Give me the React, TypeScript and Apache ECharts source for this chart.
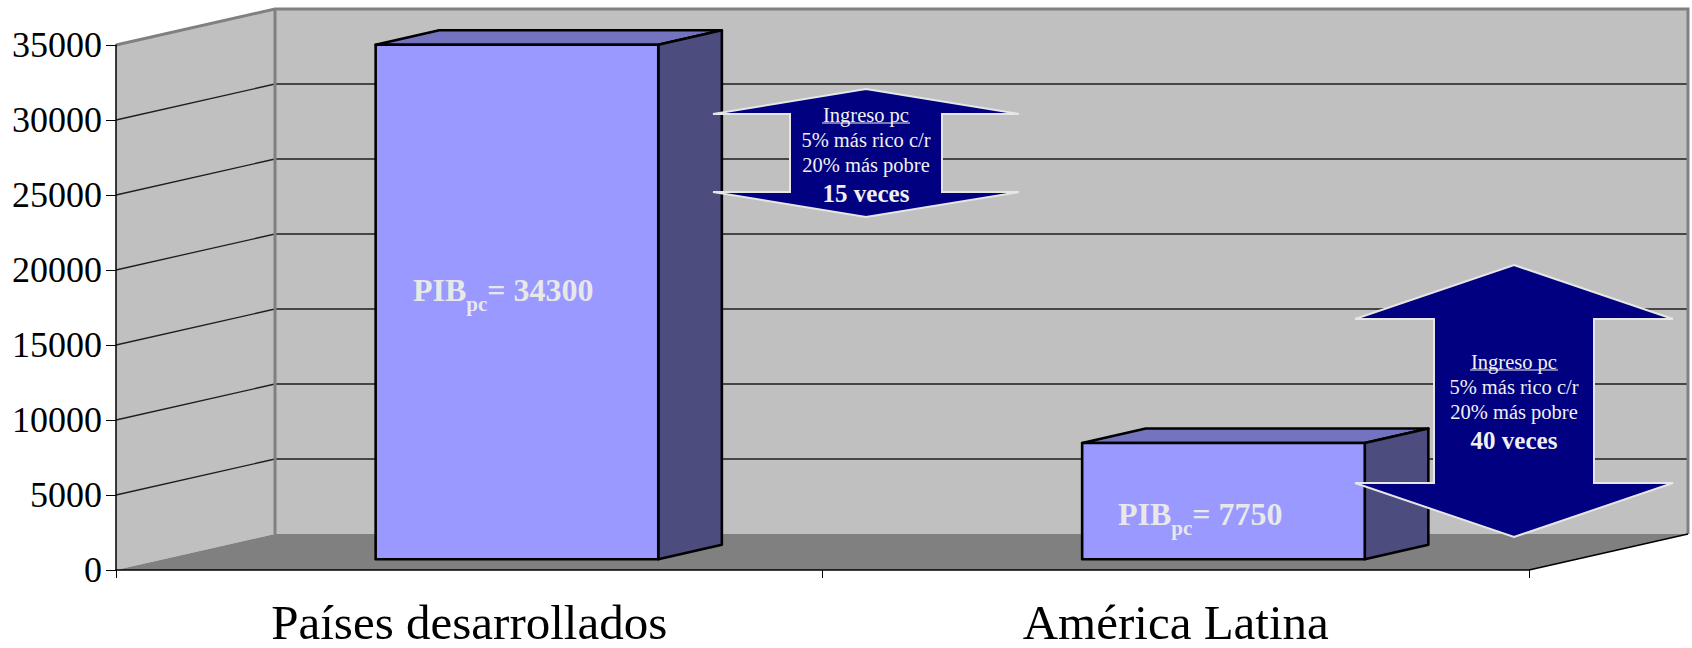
import React, { useEffect, useRef } from "react";
import * as echarts from "echarts";

const categories = ["Países desarrollados", "América Latina"];
const pibValues = [34300, 7750];
const yTicks = [0, 5000, 10000, 15000, 20000, 25000, 30000, 35000];
const pibLabels = ["34300", "7750"];
const arrowLines = ["Ingreso pc", "5% más rico c/r", "20% más pobre"];
const arrowRatios = ["15 veces", "40 veces"];

const DEPTH = [159, -36];
const FONT = "'Times New Roman', 'Liberation Serif', serif";

function renderWalls(params: any, api: any) {
  const cs = params.coordSys;
  const [dx, dy] = DEPTH;
  const x0 = cs.x;
  const x1 = cs.x + cs.width;
  const yTop = cs.y;
  const yBot = cs.y + cs.height;
  const children: any[] = [];
  children.push({
    type: "rect",
    shape: { x: x0 + dx, y: yTop + dy, width: cs.width, height: cs.height },
    style: { fill: "#c0c0c0" },
  });
  children.push({
    type: "polygon",
    shape: { points: [[x0, yTop], [x0 + dx, yTop + dy], [x0 + dx, yBot + dy], [x0, yBot]] },
    style: { fill: "#c0c0c0" },
  });
  children.push({
    type: "polygon",
    shape: { points: [[x0, yBot], [x0 + dx, yBot + dy], [x1 + dx, yBot + dy], [x1, yBot]] },
    style: { fill: "#808080" },
  });
  yTicks.forEach((t, i) => {
    if (i === 0 || i === yTicks.length - 1) return;
    const y = api.coord([0, t])[1];
    children.push({
      type: "polyline",
      shape: { points: [[x0, y], [x0 + dx, y + dy], [x1 + dx, y + dy]] },
      style: { stroke: "#1e1e1e", lineWidth: 1.3, fill: null },
    });
  });
  children.push({
    type: "polyline",
    shape: { points: [[x0, yTop], [x0 + dx, yTop + dy], [x1 + dx, yTop + dy], [x1 + dx, yBot + dy]] },
    style: { stroke: "#808080", lineWidth: 3, fill: null },
  });
  children.push({
    type: "line",
    shape: { x1: x0 + dx, y1: yTop + dy, x2: x0 + dx, y2: yBot + dy },
    style: { stroke: "#808080", lineWidth: 3 },
  });
  children.push({
    type: "line",
    shape: { x1: x1, y1: yBot, x2: x1 + dx, y2: yBot + dy },
    style: { stroke: "#000", lineWidth: 1.5 },
  });
  return { type: "group", children };
}

function renderBar(params: any, api: any) {
  const idx = api.value(0);
  const val = api.value(1);
  const top = api.coord([idx, val]);
  const base = api.coord([idx, 0]);
  const catW = api.size([1, 0])[0];
  const bw = catW * 0.4;
  const [dx, dy] = DEPTH;
  const fx = top[0] - bw / 2 + dx * 0.3;
  const fy = top[1] + dy * 0.3;
  const by = base[1] + dy * 0.3;
  const bdx = dx * 0.4;
  const bdy = dy * 0.4;
  const st = { stroke: "#000", lineWidth: 2.6, lineJoin: "round" };
  return {
    type: "group",
    children: [
      {
        type: "polygon",
        shape: { points: [[fx, fy], [fx + bw, fy], [fx + bw + bdx, fy + bdy], [fx + bdx, fy + bdy]] },
        style: { fill: "#7373bf", ...st },
      },
      {
        type: "polygon",
        shape: { points: [[fx + bw, fy], [fx + bw + bdx, fy + bdy], [fx + bw + bdx, by + bdy], [fx + bw, by]] },
        style: { fill: "#4c4c7f", ...st },
      },
      {
        type: "rect",
        shape: { x: fx, y: fy, width: bw, height: by - fy },
        style: { fill: "#9999ff", ...st },
      },
    ],
  };
}

function arrowGraphic(cx: number, shaft: number, head: number, tipT: number, shT: number, shB: number, tipB: number, ratio: string, textTop: number) {
  const els: any[] = [];
  els.push({
    type: "polygon",
    z: 10,
    shape: {
      points: [
        [cx, tipT], [cx + head, shT], [cx + shaft, shT], [cx + shaft, shB], [cx + head, shB],
        [cx, tipB], [cx - head, shB], [cx - shaft, shB], [cx - shaft, shT], [cx - head, shT],
      ],
    },
    style: { fill: "#000080", stroke: "#e6e6e6", lineWidth: 2 },
  });
  const offs = [0, 25, 50];
  arrowLines.forEach((t, i) => {
    els.push({
      type: "text",
      z: 11,
      x: cx,
      y: textTop + offs[i],
      style: { text: t, fill: "#f0f0f0", font: `20.5px ${FONT}`, align: "center", verticalAlign: "middle" },
    });
  });
  els.push({
    type: "line",
    z: 11,
    shape: { x1: cx - 44, y1: textTop + 8, x2: cx + 44, y2: textTop + 8 },
    style: { stroke: "#f0f0f0", lineWidth: 1.2 },
  });
  els.push({
    type: "text",
    z: 11,
    x: cx,
    y: textTop + 78,
    style: { text: ratio, fill: "#f0f0f0", font: `bold 25px ${FONT}`, align: "center", verticalAlign: "middle" },
  });
  return els;
}

function pibLabel(x: number, y: number, value: string) {
  return {
    type: "text",
    z: 11,
    x,
    y,
    style: {
      text: `{m|PIB}{s|pc}{m|= ${value}}`,
      align: "left",
      verticalAlign: "middle",
      fill: "#e8e8e8",
      rich: {
        m: { fontFamily: FONT, fontWeight: "bold", fontSize: 32, lineHeight: 40, verticalAlign: "top", fill: "#e8e8e8" },
        s: { fontFamily: FONT, fontWeight: "bold", fontSize: 21, lineHeight: 21, verticalAlign: "bottom", fill: "#e8e8e8" },
      },
    },
  };
}

export default function App() {
  const ref = useRef<HTMLDivElement>(null);
  useEffect(() => {
    if (!ref.current) return;
    const chart = echarts.init(ref.current, null, { renderer: "svg" });
    chart.setOption({
      animation: false,
      backgroundColor: "#ffffff",
      grid: { left: 116, right: 163, top: 45, bottom: 78 },
      xAxis: {
        type: "category",
        data: categories,
        boundaryGap: true,
        z: 5,
        axisLine: { lineStyle: { color: "#000", width: 1.5 } },
        axisTick: { show: true, length: 8, interval: 0, lineStyle: { color: "#000", width: 1 } },
        axisLabel: { interval: 0, margin: 32, lineHeight: 40, color: "#000", fontFamily: FONT, fontSize: 49 },
        splitLine: { show: false },
      },
      yAxis: {
        type: "value",
        min: yTicks[0],
        max: yTicks[yTicks.length - 1],
        interval: 5000,
        z: 5,
        axisLine: { show: true, lineStyle: { color: "#000", width: 1.5 } },
        axisTick: { show: true, length: 10, lineStyle: { color: "#000", width: 1 } },
        axisLabel: { margin: 14, color: "#000", fontFamily: FONT, fontSize: 36, formatter: (v: number) => String(v) },
        splitLine: { show: false },
      },
      series: [
        {
          type: "custom",
          z: 1,
          clip: false,
          silent: true,
          renderItem: renderWalls,
          encode: { x: 0, y: 1 },
          data: [[0, 0]],
        },
        {
          type: "custom",
          z: 2,
          clip: false,
          renderItem: renderBar,
          encode: { x: 0, y: 1 },
          data: pibValues.map((v, i) => [i, v]),
        },
      ],
      graphic: [
        ...arrowGraphic(866, 76, 153, 89, 114, 192, 217, arrowRatios[0], 115),
        ...arrowGraphic(1514, 80, 159, 265, 319, 483, 537, arrowRatios[1], 362),
        pibLabel(413, 294, pibLabels[0]),
        pibLabel(1118, 518, pibLabels[1]),
      ],
    });
    return () => chart.dispose();
  }, []);
  return <div ref={ref} style={{ position: "fixed", left: 0, top: 0, width: 1692, height: 648 }} />;
}
